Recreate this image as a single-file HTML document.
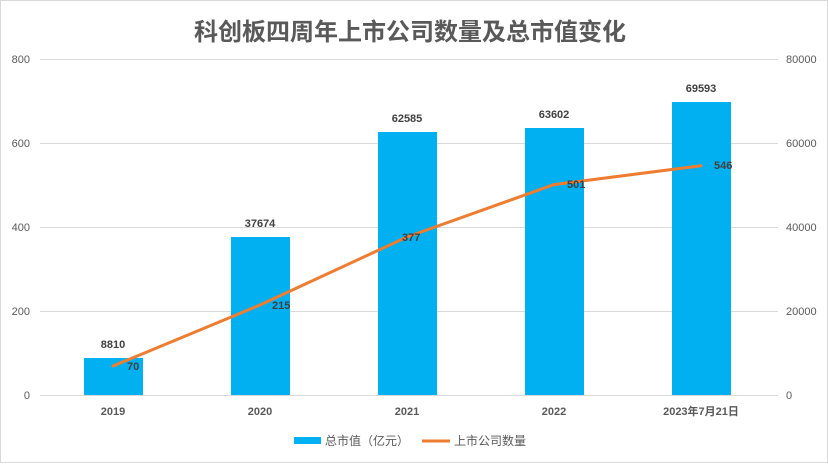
<!DOCTYPE html>
<html><head><meta charset="utf-8"><style>
body{margin:0;background:#fff}
svg text{font-family:"Liberation Sans","Noto Sans CJK SC",sans-serif}
</style></head><body>
<svg width="828" height="463" viewBox="0 0 828 463" xmlns="http://www.w3.org/2000/svg">
<rect x="0.5" y="0.5" width="827" height="462" fill="#fff" stroke="#d9d9d9"/>
<text x="410" y="40" text-anchor="middle" font-size="24" font-weight="bold" fill="#595959">科创板四周年上市公司数量及总市值变化</text>
<g stroke="#d9d9d9" stroke-width="1">
<line x1="40" x2="778" y1="59.5" y2="59.5"/>
<line x1="40" x2="778" y1="143.5" y2="143.5"/>
<line x1="40" x2="778" y1="227.5" y2="227.5"/>
<line x1="40" x2="778" y1="311.5" y2="311.5"/>
<line x1="40" x2="778" y1="395.5" y2="395.5"/>
</g>
<g font-size="11" fill="#595959">
<text x="30" y="63" text-anchor="end">800</text>
<text x="30" y="147" text-anchor="end">600</text>
<text x="30" y="231" text-anchor="end">400</text>
<text x="30" y="315" text-anchor="end">200</text>
<text x="30" y="399" text-anchor="end">0</text>
<text x="786" y="63">80000</text>
<text x="786" y="147">60000</text>
<text x="786" y="231">40000</text>
<text x="786" y="315">20000</text>
<text x="786" y="399">0</text>
</g>
<g fill="#00b0f0">
<rect x="84" y="358" width="59" height="37"/>
<rect x="231" y="237" width="59" height="158"/>
<rect x="378" y="132" width="59" height="263"/>
<rect x="525" y="128" width="59" height="267"/>
<rect x="672" y="102" width="59" height="293"/>
</g>
<g font-size="11" font-weight="bold" fill="#404040" text-anchor="middle">
<text x="113" y="348">8810</text>
<text x="260" y="227">37674</text>
<text x="407" y="122">62585</text>
<text x="554" y="118">63602</text>
<text x="701" y="92">69593</text>
</g>
<polyline points="113,366 260,305 407,237 554,184.6 701,165.7" fill="none" stroke="#ed7d31" stroke-width="3" stroke-linejoin="round" stroke-linecap="round"/>
<g font-size="11" font-weight="bold" fill="#404040">
<text x="127" y="370">70</text>
<text x="272" y="309">215</text>
<text x="402" y="241">377</text>
<text x="567" y="188">501</text>
<text x="714" y="169">546</text>
</g>
<g font-size="11" fill="#595959" text-anchor="middle" font-weight="bold">
<text x="113" y="415">2019</text>
<text x="260" y="415">2020</text>
<text x="407" y="415">2021</text>
<text x="554" y="415">2022</text>
<text x="701" y="415">2023年7月21日</text>
</g>
<rect x="294" y="437" width="27" height="7" fill="#00b0f0"/>
<text x="325" y="445" font-size="12" fill="#595959">总市值（亿元）</text>
<line x1="422" x2="450" y1="441" y2="441" stroke="#ed7d31" stroke-width="3"/>
<text x="454" y="445" font-size="12" fill="#595959">上市公司数量</text>
</svg>
</body></html>
